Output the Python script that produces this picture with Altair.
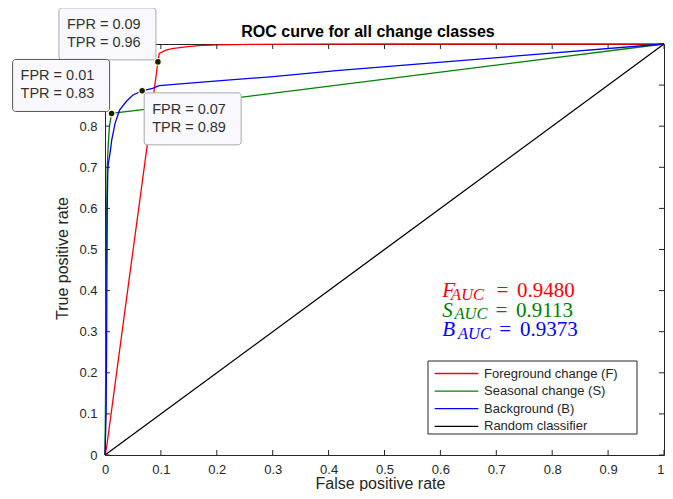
import altair as alt
import pandas as pd

# ---------------- data ----------------
series_names = ["Foreground change (F)", "Seasonal change (S)", "Background (B)", "Random classifier"]
series_colors = ["#ff0000", "#008000", "#0000ff", "#000000"]

fg_fpr = [0.0, 0.003, 0.043, 0.076, 0.088, 0.0947, 0.097, 0.109, 0.120, 0.144, 0.167, 0.203, 0.26, 0.35, 0.5, 1.0]
fg_tpr = [0.0, 0.020, 0.426, 0.758, 0.888, 0.9565, 0.977, 0.985, 0.989, 0.993, 0.996, 0.998, 0.999, 0.9995, 1.0, 1.0]

se_fpr = [0.0, 0.001, 0.002, 0.003, 0.004, 0.006, 0.008, 0.0118, 0.0675, 1.0]
se_tpr = [0.0, 0.150, 0.400, 0.600, 0.700, 0.760, 0.800, 0.831, 0.8405, 1.0]

bg_fpr = [0.0, 0.002, 0.003, 0.004, 0.005, 0.006, 0.009, 0.012, 0.018, 0.026, 0.038, 0.050, 0.0665, 0.085, 0.097, 0.179, 0.296, 0.414, 1.0]
bg_tpr = [0.0, 0.100, 0.300, 0.600, 0.690, 0.710, 0.734, 0.766, 0.807, 0.839, 0.860, 0.876, 0.886, 0.892, 0.8985, 0.908, 0.920, 0.935, 1.0]

rc_fpr = [0.0, 1.0]
rc_tpr = [0.0, 1.0]

tick_values = [0.0, 0.1, 0.2, 0.3, 0.4, 0.5, 0.6, 0.7, 0.8, 0.9, 1.0]

tip_fpr = [0.0947, 0.0118, 0.0665]
tip_tpr = [0.9565, 0.831, 0.886]
tip_side = ["upper-left", "upper-left", "lower-right"]
tip_border = ["#a8a8a8", "#555555", "#a8a8a8"]

auc_letters = ["F", "S", "B"]
auc_values = [0.9480, 0.9113, 0.9373]
auc_colors = ["#ff0000", "#008000", "#0000ff"]

chart_title = "ROC curve for all change classes"

# ---------------- layout (pixels) ----------------
W, H = 559, 411          # plot area (page x 105..664, y 44..455)
REF_X0, REF_W = 105, 567  # reference geometry used to read annotation positions
Y0 = 44
FONT = "Liberation Sans"
SERIF = "Liberation Serif"
INK = "#262626"


def px_to_x(px):
    return (px - REF_X0) / REF_W


def py_to_y(py):
    return (Y0 + H - py) / H


auc_base_py = [297, 316.5, 336]
auc_letter_px = [447, 447, 447]
auc_sub_px = [456, 459.5, 463]
auc_eq_px = [502, 501, 505]
auc_num_px = [523, 522, 526]

LEG_X, LEG_Y, LEG_W, LEG_H = 323, 317, 209, 73   # legend frame, relative to plot

# ---------------- tables ----------------
rows = []
for name, fx, ty in zip(series_names, [fg_fpr, se_fpr, bg_fpr, rc_fpr], [fg_tpr, se_tpr, bg_tpr, rc_tpr]):
    for i, (a, b) in enumerate(zip(fx, ty)):
        rows.append({"series": name, "fpr": a, "tpr": b, "i": i})
df_lines = pd.DataFrame(rows)

x_enc = alt.X(
    "fpr:Q",
    scale=alt.Scale(domain=[0, 1], nice=False, zero=False),
    axis=alt.Axis(
        values=tick_values, format="~g", title="False positive rate",
        titleX=275, titleY=33, titleBaseline="alphabetic", titleAlign="center",
        ticks=False, domain=False, grid=False, labelPadding=8, labelFlush=False,
        labelAlign={"condition": {"test": "datum.value >= 1", "value": "right"}, "value": "center"},
    ),
)
y_enc = alt.Y(
    "tpr:Q",
    scale=alt.Scale(domain=[0, 1], nice=False, zero=False),
    axis=alt.Axis(
        values=tick_values, format="~g", title="True positive rate",
        # the 0.9 and 1 labels sit behind the data-tip boxes in the figure
        labelExpr="datum.value >= 0.85 ? '' : datum.label",
        titleX=-43, titleY=214, titleAngle=270, titleBaseline="middle", titleAlign="center",
        ticks=False, domain=False, grid=False, labelPadding=8, labelFlush=False,
    ),
)

legend_frame = alt.Chart(pd.DataFrame({"k": [0]})).mark_rect(
    fill="white", stroke=INK, strokeWidth=1
).encode(
    x=alt.value(LEG_X), x2=alt.value(LEG_X + LEG_W), y=alt.value(LEG_Y), y2=alt.value(LEG_Y + LEG_H)
)

lines = alt.Chart(df_lines).mark_line(strokeWidth=1.3).encode(
    x=x_enc,
    y=y_enc,
    order=alt.Order("i:Q"),
    color=alt.Color(
        "series:N",
        scale=alt.Scale(domain=series_names, range=series_colors),
        legend=alt.Legend(
            title=None, orient="none", legendX=LEG_X, legendY=LEG_Y,
            symbolType="stroke", symbolSize=1900, symbolStrokeWidth=1.3, clipHeight=13,
            labelFont=FONT, labelFontSize=13, labelColor=INK,
            padding=6, rowPadding=3.6, labelOffset=5,
        ),
    ),
)

# inward ticks on all four sides
df_tx = pd.DataFrame({"fpr": tick_values})
df_ty = pd.DataFrame({"tpr": tick_values})
tick_b = alt.Chart(df_tx).mark_rule(color=INK, strokeWidth=1).encode(x=x_enc, y=alt.value(H), y2=alt.value(H - 5))
tick_t = alt.Chart(df_tx).mark_rule(color=INK, strokeWidth=1).encode(x=x_enc, y=alt.value(0), y2=alt.value(5))
tick_l = alt.Chart(df_ty).mark_rule(color=INK, strokeWidth=1).encode(y=y_enc, x=alt.value(0), x2=alt.value(5))
tick_r = alt.Chart(df_ty).mark_rule(color=INK, strokeWidth=1).encode(y=y_enc, x=alt.value(W), x2=alt.value(W - 5))

# data tips
tip_layers = []
for f, t, side, border in zip(tip_fpr, tip_tpr, tip_side, tip_border):
    d = pd.DataFrame({"fpr": [f], "tpr": [t], "l1": [f"FPR = {f:.2f}"], "l2": [f"TPR = {t:.2f}"]})
    if side == "upper-left":
        bx, by = -99, -54
    else:
        bx, by = 2, 2
    rect = alt.Chart(d).mark_rect(
        fill="#f9f9fd", stroke=border, strokeWidth=1, cornerRadius=3,
        xOffset=bx, x2Offset=bx + 97, yOffset=by, y2Offset=by + 52,
    ).encode(x=x_enc, x2=alt.X2("fpr"), y=y_enc, y2=alt.Y2("tpr"))
    t1 = alt.Chart(d).mark_text(
        align="left", baseline="middle", dx=bx + 8, dy=by + 17, font=FONT, fontSize=14.5, color="#333333"
    ).encode(x=x_enc, y=y_enc, text="l1:N")
    t2 = alt.Chart(d).mark_text(
        align="left", baseline="middle", dx=bx + 8, dy=by + 35, font=FONT, fontSize=14.5, color="#333333"
    ).encode(x=x_enc, y=y_enc, text="l2:N")
    tip_layers += [rect, t1, t2]

df_tips = pd.DataFrame({"fpr": tip_fpr, "tpr": tip_tpr})
tip_points = alt.Chart(df_tips).mark_point(
    shape="circle", filled=True, fill="#1a1a1a", stroke="#ffffc8", strokeWidth=1.2, size=45, opacity=1
).encode(x=x_enc, y=y_enc)

# AUC annotations (each piece shares the main x field "fpr")
auc_base = pd.DataFrame({
    "letter": auc_letters,
    "sub": ["AUC"] * 3,
    "eq": ["="] * 3,
    "num": [f"{v:.4f}" for v in auc_values],
    "color": auc_colors,
    "tpr": [py_to_y(p) for p in auc_base_py],
})
col = alt.Color("color:N", scale=None)


def auc_piece(px_list, field, size, style, dy=0):
    d = auc_base.assign(fpr=[px_to_x(p) for p in px_list])
    return alt.Chart(d).mark_text(
        align="left", baseline="alphabetic", font=SERIF, fontSize=size, fontStyle=style, dy=dy
    ).encode(x=x_enc, y=y_enc, text=f"{field}:N", color=col)


auc_letter = auc_piece(auc_letter_px, "letter", 21, "italic")
auc_sub = auc_piece(auc_sub_px, "sub", 16.5, "italic", dy=2.5)
auc_eq = auc_piece(auc_eq_px, "eq", 21, "normal")
auc_num = auc_piece(auc_num_px, "num", 21, "normal")

# chart title drawn as a text mark above the plot
title_mark = alt.Chart(pd.DataFrame({"t": [chart_title]})).mark_text(
    align="center", baseline="alphabetic", font=FONT, fontSize=16, fontWeight="bold", color="#000000"
).encode(x=alt.value(263), y=alt.value(-7.3), text="t:N")

chart = alt.layer(
    legend_frame, lines, tick_b, tick_t, tick_l, tick_r, *tip_layers, tip_points,
    auc_letter, auc_sub, auc_eq, auc_num, title_mark,
).properties(
    width=W,
    height=H,
    autosize=alt.AutoSizeParams(type="none"),
    padding={"left": 97, "top": 36, "right": 1, "bottom": 36},
).configure_view(
    stroke=INK, strokeWidth=1
).configure_axis(
    labelFont=FONT, labelFontSize=13, labelColor=INK,
    titleFont=FONT, titleFontSize=16, titleFontWeight="normal", titleColor=INK,
)

chart.save("out.html", embed_options={"renderer": "svg", "actions": False})
